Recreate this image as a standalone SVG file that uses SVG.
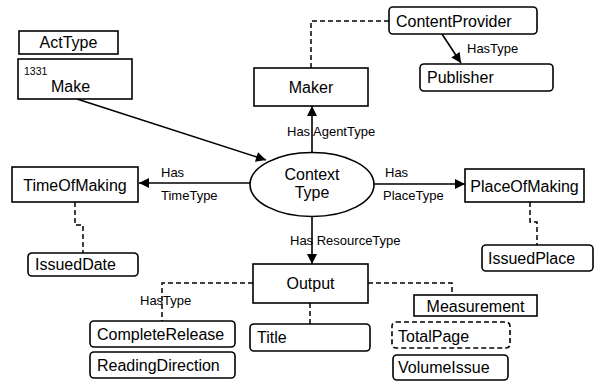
<svg xmlns="http://www.w3.org/2000/svg" width="595" height="381" viewBox="0 0 595 381">
<defs>
<marker id="arr" viewBox="0 0 10 10" refX="10" refY="5" markerWidth="11" markerHeight="10" markerUnits="userSpaceOnUse" orient="auto">
<path d="M0,0 L10,5 L0,10 Z" fill="#000"/>
</marker>
<style>
.box{fill:#fff;stroke:#000;stroke-width:1.6}
.rbox{fill:#fff;stroke:#000;stroke-width:1.6}
.dbox{fill:#fff;stroke:#000;stroke-width:1.6;stroke-dasharray:5,3}
.t{font-family:"Liberation Sans",Arial,sans-serif;font-size:16px;fill:#000}
.c{text-anchor:middle}
.lbl{font-family:"Liberation Sans",Arial,sans-serif;font-size:13px;fill:#000}
.ln{fill:none;stroke:#000;stroke-width:1.6}
.dl{fill:none;stroke:#000;stroke-width:1.5;stroke-dasharray:5,3}
</style>
</defs>
<rect width="595" height="381" fill="#fff"/>
<g id="connectors">
<path class="dl" d="M311,68 V21 H389"/>
<path class="ln" d="M442,34 L461,63" marker-end="url(#arr)"/>
<path class="ln" d="M77,99 L266,160" marker-end="url(#arr)"/>
<path class="ln" d="M312,153 V106" marker-end="url(#arr)"/>
<path class="ln" d="M250,183 H139" marker-end="url(#arr)"/>
<path class="ln" d="M374,184 H465" marker-end="url(#arr)"/>
<path class="ln" d="M312,216 V264" marker-end="url(#arr)"/>
<path class="dl" d="M75,202 V225 H83 V253"/>
<path class="dl" d="M530,202 V222 H537 V245"/>
<path class="dl" d="M253,283 H162 V321"/>
<path class="dl" d="M310,303 V324"/>
<path class="dl" d="M368,283 H452 V295"/>
<text class="lbl" x="467" y="53">HasType</text>
<text class="lbl" x="287" y="136">Has AgentType</text>
<text class="lbl" x="161" y="177">Has</text>
<text class="lbl" x="161" y="200">TimeType</text>
<text class="lbl" x="385" y="177">Has</text>
<text class="lbl" x="383" y="200">PlaceType</text>
<text class="lbl" x="290" y="245">Has ResourceType</text>
<text class="lbl" x="140" y="305">HasType</text>
</g>
<g id="ActType"><rect class="box" x="19" y="31" width="99" height="23"/><text class="t c" x="68.5" y="48">ActType</text></g>
<g id="Make"><rect class="box" x="18" y="59" width="114" height="40"/><text class="t" style="font-size:10.5px" x="24" y="75">1331</text><text class="t" x="51" y="92">Make</text></g>
<g id="Maker"><rect class="box" x="254" y="68" width="114" height="38"/><text class="t c" x="311" y="93">Maker</text></g>
<g id="ContentProvider"><rect class="rbox" x="389" y="7" width="148" height="27" rx="4"/><text class="t" x="396" y="27">ContentProvider</text></g>
<g id="Publisher"><rect class="rbox" x="420" y="64" width="133" height="27" rx="4"/><text class="t" x="427" y="83">Publisher</text></g>
<g id="ContextType"><ellipse cx="312" cy="184.5" rx="62" ry="32" fill="#fff" stroke="#000" stroke-width="1.6"/><text class="t c" x="312" y="180">Context</text><text class="t c" x="312" y="198">Type</text></g>
<g id="TimeOfMaking"><rect class="box" x="12" y="167" width="126" height="35"/><text class="t c" x="75" y="191">TimeOfMaking</text></g>
<g id="IssuedDate"><rect class="rbox" x="28" y="253" width="110" height="23" rx="4"/><text class="t" x="35" y="270">IssuedDate</text></g>
<g id="PlaceOfMaking"><rect class="box" x="465" y="169" width="119" height="33"/><text class="t c" x="524.5" y="192">PlaceOfMaking</text></g>
<g id="IssuedPlace"><rect class="rbox" x="482" y="245" width="111" height="26" rx="4"/><text class="t" x="488" y="264">IssuedPlace</text></g>
<g id="Output"><rect class="box" x="253" y="264" width="115" height="39"/><text class="t c" x="310.5" y="289">Output</text></g>
<g id="CompleteRelease"><rect class="rbox" x="90" y="321" width="145" height="26" rx="4"/><text class="t" x="97" y="340">CompleteRelease</text></g>
<g id="ReadingDirection"><rect class="rbox" x="90" y="352" width="145" height="26" rx="4"/><text class="t" x="97" y="371">ReadingDirection</text></g>
<g id="Title"><rect class="rbox" x="250" y="324" width="120" height="27" rx="4"/><text class="t" x="257" y="343">Title</text></g>
<g id="Measurement"><rect class="box" x="414" y="295" width="123" height="21"/><text class="t c" x="475.5" y="312">Measurement</text></g>
<g id="TotalPage"><rect class="dbox" x="392" y="322" width="118" height="26" rx="4"/><text class="t" x="398" y="342">TotalPage</text></g>
<g id="VolumeIssue"><rect class="rbox" x="393" y="355" width="115" height="25" rx="4"/><text class="t" x="398" y="373">VolumeIssue</text></g>
</svg>
